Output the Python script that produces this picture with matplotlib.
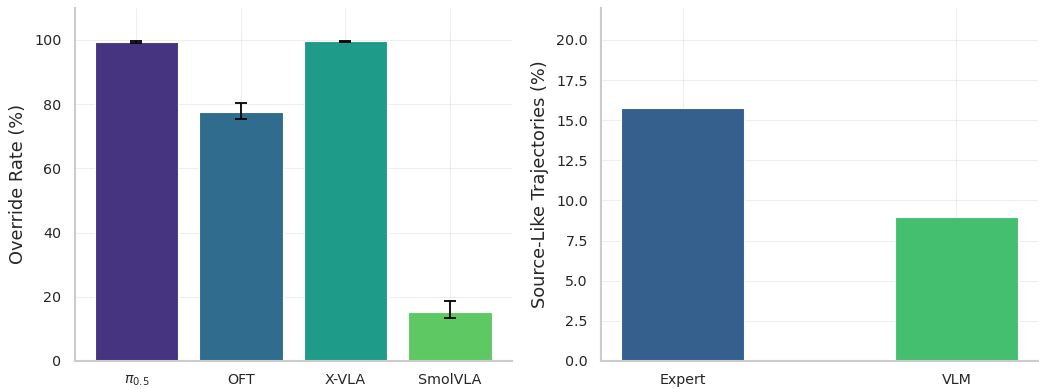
import numpy as np
import seaborn as sns
import matplotlib
matplotlib.use('Agg')
from matplotlib import pyplot as plt

models = [r'$\pi_{0.5}$', 'OFT', 'X-VLA', 'SmolVLA']
override = [99.3, 77.5, 99.5, 15.4]
err_low = [0.3, 2.1, 0.2, 2.1]
err_high = [0.3, 2.8, 0.3, 3.2]

sources = ['Expert', 'VLM']
source_like = [15.75, 8.94]

sns.set_style('whitegrid')
plt.rcParams['font.family'] = ['DejaVu Sans']

fig, (ax1, ax2) = plt.subplots(1, 2, figsize=(10.39, 3.89), dpi=100)

c1 = plt.cm.viridis(np.linspace(0.15, 0.75, 4))
x1 = np.arange(len(models))
ax1.bar(x1, override, width=0.8, color=c1, edgecolor='white', linewidth=0.8,
        yerr=[err_low, err_high], capsize=4, error_kw=dict(elinewidth=1.3, capthick=1.3, ecolor='black'))
ax1.set_xticks(x1)
ax1.set_xticklabels(models, fontsize=10.3)
ax1.set_ylim(0, 110)
ax1.set_yticks([0, 20, 40, 60, 80, 100])
ax1.set_ylabel('Override Rate (%)', fontsize=12.8, labelpad=5)

c2 = plt.cm.viridis([0.3, 0.7])
x2 = np.arange(len(sources))
ax2.bar(x2, source_like, width=0.45, color=c2, edgecolor='white', linewidth=0.8)
ax2.set_xticks(x2)
ax2.set_xticklabels(sources, fontsize=10.3)
ax2.set_ylim(0, 22)
ax2.set_yticks(np.arange(0, 20.1, 2.5))
ax2.set_ylabel('Source-Like Trajectories (%)', fontsize=12.8, labelpad=5)

for ax in (ax1, ax2):
    ax.tick_params(axis='y', labelsize=10.3, pad=6)
    ax.tick_params(axis='x', pad=5.5)
    ax.grid(True, alpha=0.3)
    for s in ['top', 'right']:
        ax.spines[s].set_visible(False)
    for s in ['left', 'bottom']:
        ax.spines[s].set_color('#cccccc')
        ax.spines[s].set_linewidth(1.5)

plt.subplots_adjust(left=0.072, right=0.999, bottom=0.072, top=0.98, wspace=0.205)
plt.savefig('out.png')
